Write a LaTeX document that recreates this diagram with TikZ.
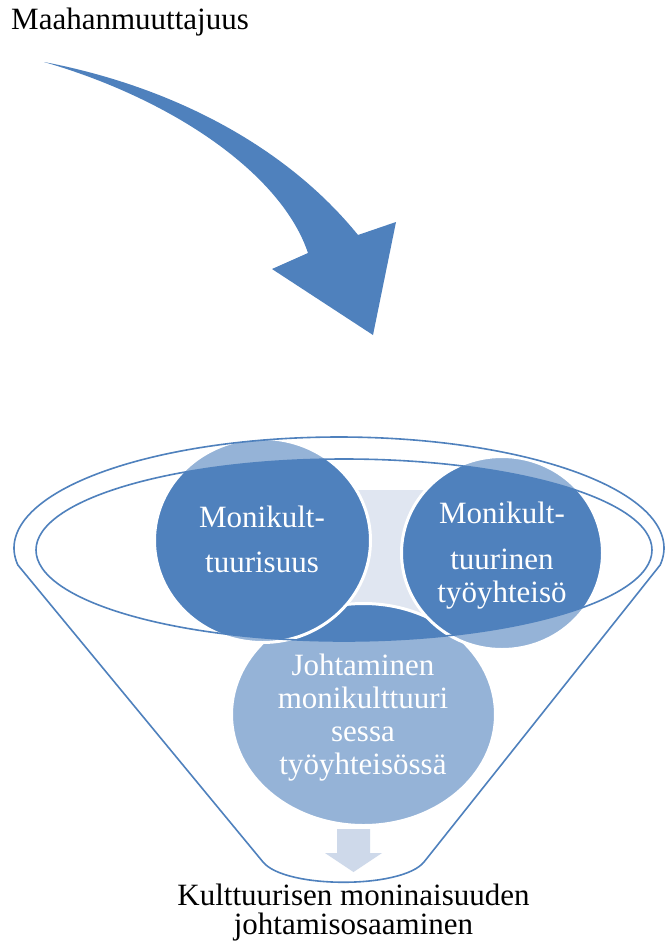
\documentclass[tikz,border=0pt]{standalone}
\usepackage{fontspec}
\setmainfont{Liberation Serif}
\usetikzlibrary{shapes.geometric}
\definecolor{darkblue}{HTML}{4F81BD}
\definecolor{lightblue}{HTML}{95B3D7}
\definecolor{paleblue}{HTML}{CED9EA}
\definecolor{greyblue}{HTML}{E0E6F1}
\tikzset{
  bubble/.style={ellipse, fill=lightblue, inner sep=0pt, outer sep=0pt},
  rim/.style={draw=white, line width=3pt},
  funnelline/.style={draw=darkblue, line width=1.6pt, line join=round},
  bubbletext/.style={anchor=base, inner sep=0pt, text=white, font=\fontsize{31}{33}\selectfont},
  plaintext/.style={inner sep=0pt, text=black, font=\fontsize{31}{33}\selectfont},
}
\begin{document}
\begin{tikzpicture}[x=1pt, y=-1pt]
\useasboundingbox (0,0) rectangle (665,945);
\fill[white] (0,0) rectangle (665,945);

% title
\node[plaintext, anchor=base west] (title) at (11,29) {Maahanmuuttajuus};

% big curved arrow
\fill[darkblue] (44,62) .. controls (170,86) and (285,145) .. (358,235)
  -- (396,222) -- (373,335) -- (272,269) -- (308,253)
  .. controls (282,175) and (175,100) .. (44,62) -- cycle;

% grey-blue background between circles
\fill[greyblue] (340,490) rectangle (428,625);

% bottom circle
\node[bubble, minimum width=264pt, minimum height=222pt] (c3) at (363.5,714.5) {};
\begin{scope}
  \clip (344,550) ellipse [x radius=308pt, y radius=91pt];
  \fill[darkblue] (c3.center) ellipse [x radius=132pt, y radius=111pt];
\end{scope}
\draw[rim] (c3.center) ellipse [x radius=132pt, y radius=111pt];

% left circle
\node[bubble, minimum width=216pt, minimum height=204pt] (c1) at (262.5,540.5) {};
\begin{scope}
  \clip (344,550) ellipse [x radius=308pt, y radius=91pt];
  \fill[darkblue] (c1.center) ellipse [x radius=108pt, y radius=102pt];
\end{scope}
\draw[rim] (c1.center) ellipse [x radius=108pt, y radius=102pt];

% right circle
\node[bubble, minimum width=201pt, minimum height=193pt] (c2) at (502,553) {};
\begin{scope}
  \clip (344,550) ellipse [x radius=308pt, y radius=91pt];
  \fill[darkblue] (c2.center) ellipse [x radius=100.5pt, y radius=96.5pt];
\end{scope}
\draw[rim] (c2.center) ellipse [x radius=100.5pt, y radius=96.5pt];

% funnel outline
\draw[funnelline] plot[domain=171.2:368.8, samples=150, smooth] ({339+325*cos(\x)},{548+111*sin(\x)})
  -- (424,862) .. controls (402,889) and (285,889) .. (263,862) -- cycle;
\draw[funnelline] (344,550) ellipse [x radius=308pt, y radius=91pt];

% small down arrow
\fill[paleblue] (337,829) -- (370,829) -- (370,853) -- (382,853) -- (353.5,872)
  -- (325,853) -- (337,853) -- cycle;

% texts in circles
\node[bubbletext] (t1) at (262,527) {\begin{tabular}[t]{@{}c@{}}Monikult-\\[12pt]tuurisuus\end{tabular}};
\node[bubbletext] (t2) at (502,523) {\begin{tabular}[t]{@{}c@{}}Monikult-\\[13pt]tuurinen\\työyhteisö\end{tabular}};
\node[bubbletext, font=\fontsize{31}{33.3}\selectfont] (t3) at (363,675) {\begin{tabular}[t]{@{}c@{}}Johtaminen\\monikulttuuri\\sessa\\työyhteisössä\end{tabular}};

% result text
\node[plaintext, anchor=base, font=\fontsize{31}{28}\selectfont] (result) at (353.5,905)
  {\begin{tabular}[t]{@{}c@{}}Kulttuurisen moninaisuuden\\johtamisosaaminen\end{tabular}};
\end{tikzpicture}
\end{document}
